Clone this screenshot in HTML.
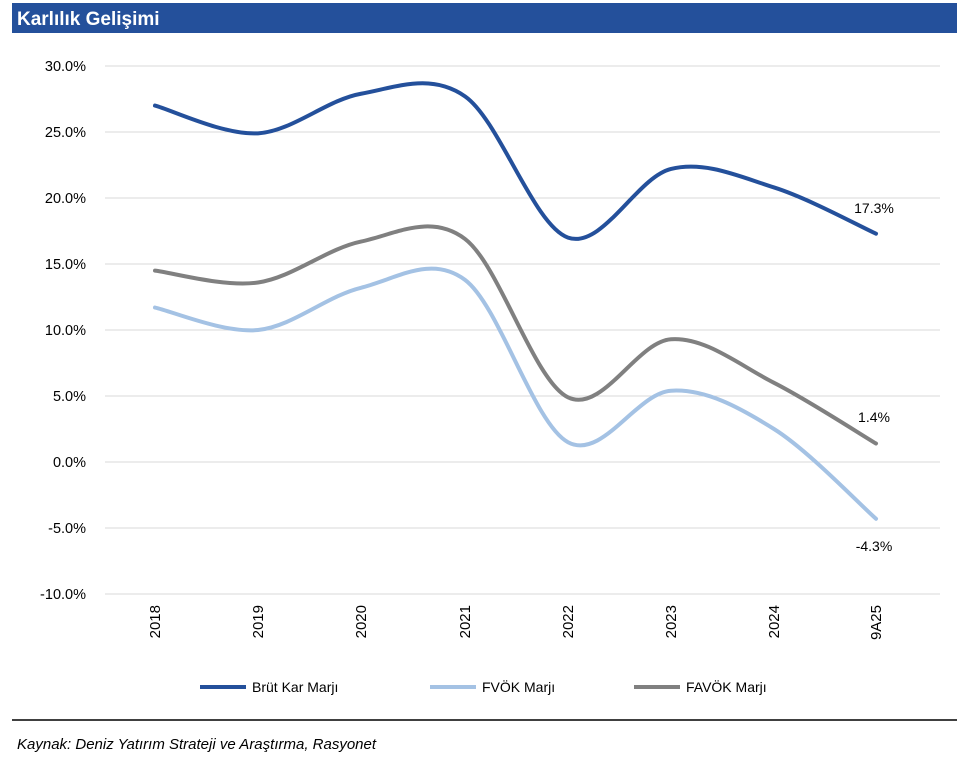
<!DOCTYPE html>
<html><head><meta charset="utf-8"><style>
body{margin:0;background:#fff;width:960px;height:777px;overflow:hidden;font-family:"Liberation Sans",sans-serif}
</style></head><body>
<svg id="s" width="960" height="777" xmlns="http://www.w3.org/2000/svg" font-family="Liberation Sans, sans-serif">
<rect x="12" y="3" width="945" height="30" fill="#24509b"/>
<text x="17" y="25" fill="#fff" font-size="19" font-weight="bold">Karlılık Gelişimi</text>
<g id="grid"></g>
<g id="lines"></g>
<text x="874" y="213" font-size="14" text-anchor="middle" fill="#000">17.3%</text>
<text x="874" y="422" font-size="14" text-anchor="middle" fill="#000">1.4%</text>
<text x="874" y="551" font-size="14" text-anchor="middle" fill="#000">-4.3%</text>
<line x1="200" y1="687" x2="246" y2="687" stroke="#24509b" stroke-width="4"/>
<text x="252" y="692" font-size="14">Brüt Kar Marjı</text>
<line x1="430" y1="687" x2="476" y2="687" stroke="#a4c2e4" stroke-width="4"/>
<text x="482" y="692" font-size="14">FVÖK Marjı</text>
<line x1="634" y1="687" x2="680" y2="687" stroke="#808080" stroke-width="4"/>
<text x="686" y="692" font-size="14">FAVÖK Marjı</text>
<line x1="12" y1="720" x2="957" y2="720" stroke="#000" stroke-width="1.5"/>
<text x="17" y="749" font-size="15" font-style="italic">Kaynak: Deniz Yatırım Strateji ve Araştırma, Rasyonet</text>
</svg>
<script>
var g=document.getElementById('grid'),L=document.getElementById('lines'),h='';
function Y(v){return 462-v*13.2;}
for(var v=30;v>=-10;v-=5){var y=Y(v);h+='<line x1="105" y1="'+y+'" x2="940" y2="'+y+'" stroke="#d9d9d9" stroke-width="1"/>';
h+='<text x="86" y="'+(y+5)+'" font-size="14.5" text-anchor="end">'+v.toFixed(1)+'%</text>';}
var xs=[155,258,361,465,568,671,774,876],lb=['2018','2019','2020','2021','2022','2023','2024','9A25'];
for(var i=0;i<8;i++){h+='<text transform="translate('+(xs[i]+5)+',605) rotate(-90)" font-size="15" text-anchor="end">'+lb[i]+'</text>';}
g.innerHTML=h;
function path(d){var p=d.map(function(v,i){return [xs[i],Y(v)]});var s='M'+p[0][0]+','+p[0][1];
for(var i=0;i<p.length-1;i++){var p0=p[i-1]||p[i],p1=p[i],p2=p[i+1],p3=p[i+2]||p2;
s+=' C'+(p1[0]+(p2[0]-p0[0])/6)+','+(p1[1]+(p2[1]-p0[1])/6)+' '+(p2[0]-(p3[0]-p1[0])/6)+','+(p2[1]-(p3[1]-p1[1])/6)+' '+p2[0]+','+p2[1];}return s;}
var ds=[[[14.5,13.6,16.7,16.9,4.9,9.3,6.0,1.4],'#808080'],[[11.7,10.0,13.2,13.8,1.5,5.4,2.5,-4.3],'#a4c2e4'],[[27.0,24.9,27.9,27.7,17.0,22.2,20.8,17.3],'#24509b']];
var o='';ds.forEach(function(d){o+='<path d="'+path(d[0])+'" fill="none" stroke="'+d[1]+'" stroke-width="4" stroke-linecap="round"/>';});
L.innerHTML=o;
</script>
</body></html>
